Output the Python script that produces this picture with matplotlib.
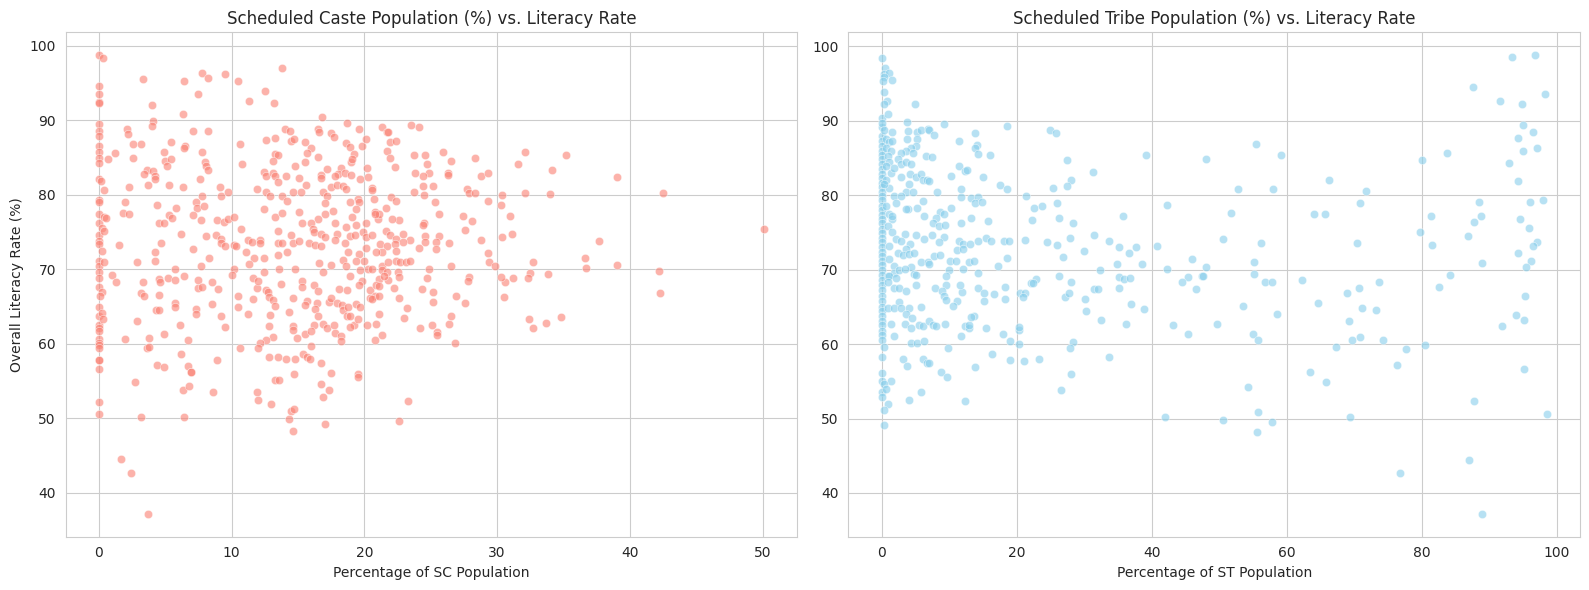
import matplotlib
matplotlib.use("Agg")
import matplotlib.pyplot as plt
import seaborn as sns

# --- SC (% of population) vs literacy ---
sc_pct = [
    0.0, 0.0, 0.0, 0.0, 0.0, 0.0, 0.0, 0.0, 0.0, 0.0, 0.0, 0.0, 0.0,
    0.0, 0.0, 0.0, 0.0, 0.0, 0.0, 0.0, 0.0, 0.0, 0.0, 0.0, 0.0, 0.0,
    0.0, 0.0, 0.0, 0.0, 0.0, 0.0, 0.0, 0.0, 0.0, 0.0, 0.0, 0.0, 0.0,
    0.3, 3.3, 6.4, 7.8, 8.2, 9.5, 10.5, 13.8, 12.5, 11.3, 13.2, 7.5, 4.0, 6.3,
    4.1, 4.0, 2.1, 2.2, 7.1, 8.2, 5.4, 6.5, 6.4, 2.6, 3.2, 4.9, 7.8, 1.2, 0.7, 2.6,
    5.0, 5.4, 5.1, 8.0, 8.1, 8.2, 3.6, 3.4, 4.1, 4.2, 4.2, 3.7, 5.3, 6.3, 2.3, 7.6, 0.15, 0.4,
    10.6, 10.8, 12.6, 13.3, 14.0, 14.4, 14.5, 14.7, 13.3, 13.5, 13.1, 12.4, 12.6, 13.1, 13.3, 13.5, 14.1, 14.8,
    11.9, 12.6, 12.9, 13.8, 14.2, 14.6, 9.1, 9.2, 9.7, 7.8, 2.0, 1.8, 2.3, 4.4, 5.8, 7.3, 7.4, 7.9, 7.1, 7.7, 5.3, 5.5, 4.5, 4.9,
    0.35, 0.5, 0.2, 0.4, 8.9, 9.4, 9.7, 10.2, 12.4, 13.3, 13.8, 10.7, 6.2, 8.1, 8.8, 9.2, 9.2, 9.5, 10.2, 10.3, 11.2, 11.5, 12.1, 12.1, 13.5, 14.5, 13.5, 13.8, 14.6,
    1.5, 4.7, 7.1, 0.2, 4.2, 4.2, 2.9, 8.3, 7.7, 11.1, 11.7, 12.4, 13.5, 14.2, 13.6, 11.3, 0.4, 10.2, 5.7, 10.0, 12.4,
    1.0, 1.3, 3.3, 4.5, 4.6, 5.2, 5.7, 6.4, 7.5, 8.5, 9.0, 7.5, 7.8, 0.2, 0.1, 3.2, 3.4, 4.5,
    5.7, 5.7, 4.3, 4.5, 0.2, 0.3, 7.3, 7.3, 8.5, 9.2, 9.5, 2.9, 6.1, 2.0, 3.8, 4.9, 6.7, 3.6, 3.8, 6.2, 8.9, 4.4, 4.9, 6.7, 6.9, 6.9,
    2.7, 6.3, 6.8, 8.6, 3.2, 6.4, 1.7, 2.4, 3.7, 10.5, 10.5, 11.2, 11.6, 11.9, 12.6, 12.7, 12.8, 13.1, 13.3, 13.7, 14.6, 11.6, 12.0,
    14.3, 14.6, 14.6, 14.9, 12.9, 12.8, 13.1, 12.6, 12.1, 12.0, 10.6, 12.8, 13.5, 14.1, 14.8, 14.7, 13.3, 13.6, 11.9, 12.0, 13.0, 14.5, 14.7, 14.3, 14.6,
    16.8, 18.7, 19.6, 16.5, 16.6, 17.5, 17.7, 15.5, 18.6, 18.9, 19.8, 20.1, 16.0, 15.7, 16.5, 19.2, 19.0, 19.1, 15.5,
    17.2, 18.2, 18.0, 18.5, 16.7, 16.7, 17.8, 19.0, 19.7, 20.3, 20.2, 15.1, 15.6, 17.5, 17.9, 18.4, 18.6, 20.6, 20.6, 15.2, 16.9, 17.2,
    18.9, 19.5, 19.6, 20.7, 17.0, 19.4, 19.1, 20.8, 21.0, 21.1, 17.6, 17.0, 16.5, 16.0, 15.1, 15.3, 17.8, 18.6, 19.4, 20.1, 16.1, 16.2, 16.7, 17.9,
    15.1, 15.8, 16.3, 16.7, 17.0, 17.8, 18.5, 18.9, 19.3, 19.9, 20.1, 20.6,
    21.3, 21.7, 21.8, 21.9, 22.4, 21.7, 21.9, 22.3, 23.5, 24.1, 23.7, 24.6, 24.7, 24.9, 24.4, 23.8, 24.4, 25.2, 24.5, 23.7,
    25.9, 26.5, 26.3, 26.3, 28.3, 28.8, 29.3, 27.7, 27.9, 28.3,
    25.3, 25.6, 27.4, 28.1, 27.6, 22.0, 22.4, 21.6, 20.8, 22.6, 22.1, 24.5, 24.4, 22.9, 21.6, 21.9, 22.4, 23.4, 22.9, 24.6, 25.6, 25.4, 26.4, 24.6,
    21.2, 21.7, 22.3, 21.3, 22.4, 20.1, 20.9, 24.1, 25.4, 29.3, 28.8, 29.3, 29.4, 29.8, 27.9, 26.5, 24.9,
    14.8, 15.3, 16.6, 16.9, 17.5, 18.4, 18.6, 18.8, 19.6, 19.4, 19.7, 20.0, 20.3, 20.6, 19.8, 21.3, 21.8, 22.4, 22.7, 23.1, 23.4, 21.3, 21.7, 22.5, 21.1, 21.8, 22.6,
    15.3, 16.2, 16.5, 18.9, 18.1, 18.7, 19.6, 20.4, 20.9, 21.1, 20.8, 20.4, 20.6, 21.1, 21.5, 22.2, 22.6, 24.7, 24.3, 25.2, 25.2, 26.9, 27.6, 27.8,
    15.7, 15.5, 16.4, 16.3, 17.3, 17.5, 17.9, 18.3, 18.4, 18.8, 19.4, 19.7, 16.5, 16.2, 16.9, 17.2, 17.7, 17.8, 18.2, 18.2, 18.7, 18.9, 19.2, 18.9, 19.5, 20.2, 20.9, 21.1, 21.3, 20.8,
    15.5, 16.0, 23.2, 23.0, 24.2, 25.1, 25.5, 25.5, 26.4, 26.5, 26.8, 16.0, 15.4, 15.7, 15.9, 16.7, 17.5, 19.5, 19.5, 16.7, 17.3, 16.9, 17.0, 23.3, 22.6,
    32.1, 35.2, 31.6, 34.1, 39.0, 30.4, 32.1, 34.0, 42.5, 30.3, 31.0, 50.1, 30.4, 31.1, 37.7, 36.6, 36.7, 39.0, 32.7, 32.5,
    32.3, 31.2, 30.6, 30.3, 33.8, 42.2, 42.3, 30.5, 32.4, 32.7, 33.7, 34.8,
]
sc_lit = [
    98.75, 94.6, 93.5, 92.5, 92.3, 89.5, 88.6, 87.9, 86.6, 85.8, 85.0, 84.3, 82.2,
    79.3, 79.0, 77.5, 76.3, 74.6, 73.8, 73.4, 71.2, 70.4, 69.6, 68.9, 67.7, 64.9,
    63.8, 62.5, 62.1, 61.8, 60.6, 60.1, 59.8, 59.4, 57.9, 57.9, 56.7, 52.2, 50.6,
    98.4, 95.5, 95.3, 96.4, 95.7, 96.3, 95.3, 97.0, 93.9, 92.6, 92.3, 93.6, 92.1, 90.9,
    89.9, 89.3, 88.9, 88.2, 88.6, 88.6, 87.1, 86.6, 86.3, 86.8, 86.8, 85.8, 85.8, 85.6, 84.8, 84.9,
    84.5, 84.8, 83.9, 84.4, 83.9, 83.4, 83.4, 82.8, 83.2, 82.5, 82.1, 81.4, 81.3, 81.0, 81.0, 82.2, 81.9, 80.6,
    86.8, 84.2, 87.4, 87.6, 88.9, 88.6, 87.3, 87.5, 85.5, 85.3, 84.6, 83.1, 82.6, 83.0, 82.6, 81.7, 82.5, 83.9,
    80.8, 80.4, 79.8, 79.8, 79.2, 80.4, 81.0, 79.8, 80.4, 79.9, 79.0, 77.6, 77.5, 78.7, 78.3, 79.0, 78.3, 78.5, 77.3, 76.7, 77.3, 76.9, 76.3, 76.2,
    77.1, 76.9, 75.6, 75.1, 76.6, 76.4, 76.8, 77.0, 78.1, 77.1, 77.6, 75.4, 74.7, 74.5, 74.6, 74.1, 73.5, 73.2, 73.3, 73.2, 74.0, 73.7, 74.0, 73.5, 75.2, 74.6, 73.6, 73.6, 73.5,
    73.3, 73.6, 72.8, 72.5, 72.4, 71.1, 71.0, 71.5, 70.5, 72.3, 71.6, 71.6, 71.9, 72.4, 70.1, 70.7, 71.0, 70.1, 70.0, 69.2, 69.6,
    69.2, 68.3, 68.3, 68.7, 68.3, 68.8, 68.6, 69.1, 68.6, 68.3, 67.4, 67.5, 67.6, 67.0, 66.5, 66.8, 66.5, 66.6,
    65.5, 65.0, 64.6, 64.6, 64.2, 63.3, 64.7, 64.0, 65.3, 63.7, 62.3, 63.1, 62.6, 60.6, 60.8, 61.3, 60.5, 59.4, 59.6, 58.6, 57.8, 57.2, 56.9, 57.1, 56.3, 56.2,
    54.9, 53.8, 54.3, 53.6, 50.2, 50.2, 44.5, 42.7, 37.2, 66.4, 65.0, 64.0, 66.0, 67.5, 67.3, 67.0, 66.3, 65.9, 65.1, 68.0, 66.1, 68.8, 68.5,
    64.3, 62.4, 61.9, 60.8, 63.9, 62.4, 60.9, 60.5, 60.1, 59.5, 59.5, 58.3, 58.3, 58.0, 58.0, 56.0, 55.1, 55.1, 53.6, 52.5, 51.9, 51.0, 51.2, 49.9, 48.3,
    90.4, 89.6, 88.8, 88.8, 88.4, 88.3, 87.8, 87.1, 87.0, 86.5, 86.6, 87.5, 86.3, 85.6, 85.1, 85.5, 84.4, 84.8, 84.4,
    83.5, 83.6, 82.8, 83.0, 82.7, 82.3, 82.6, 82.7, 82.2, 82.4, 83.6, 82.3, 81.3, 81.0, 81.3, 81.2, 80.8, 80.9, 80.6, 80.4, 80.4, 79.9,
    79.0, 79.5, 79.0, 79.4, 78.9, 78.1, 77.0, 77.7, 76.8, 77.5, 77.8, 77.5, 76.8, 76.3, 77.7, 76.3, 76.3, 75.7, 76.0, 76.3, 75.4, 75.0, 74.8, 74.8,
    73.8, 73.5, 73.3, 73.2, 74.3, 73.9, 73.5, 74.5, 74.6, 75.0, 74.3, 74.6,
    89.1, 88.4, 88.5, 87.1, 87.3, 85.9, 85.0, 83.8, 89.4, 89.1, 85.3, 85.3, 84.1, 83.0, 82.6, 83.0, 81.2, 81.2, 80.0, 80.4,
    85.7, 84.6, 83.0, 82.7, 85.0, 82.5, 82.9, 80.8, 80.2, 80.3,
    79.0, 77.5, 77.2, 76.5, 75.3, 79.7, 79.2, 78.3, 77.5, 76.7, 76.8, 76.3, 76.0, 74.8, 75.2, 74.6, 74.1, 73.9, 73.7, 74.5, 74.5, 73.7, 73.6, 73.7,
    73.4, 73.2, 73.4, 72.3, 72.5, 72.9, 72.3, 72.9, 72.7, 79.2, 73.9, 72.2, 71.0, 70.5, 69.0, 70.5, 70.1,
    70.1, 68.5, 70.8, 69.6, 70.6, 71.3, 70.5, 72.3, 72.1, 71.1, 69.9, 71.1, 70.0, 70.1, 68.5, 70.5, 71.0, 71.2, 71.0, 71.0, 71.1, 69.9, 69.6, 69.6, 68.7, 68.6, 69.0,
    67.6, 67.9, 67.1, 69.1, 67.4, 67.2, 67.9, 67.3, 67.9, 67.8, 66.4, 66.1, 66.0, 66.5, 69.1, 67.5, 66.2, 68.8, 67.4, 67.0, 65.6, 66.5, 65.5, 68.4,
    65.8, 65.2, 65.5, 64.7, 65.6, 66.2, 65.5, 65.2, 64.5, 64.9, 65.4, 65.0, 63.7, 62.6, 62.7, 62.1, 62.6, 61.5, 61.1, 60.4, 63.7, 63.8, 62.6, 62.3, 63.3, 62.5, 62.7, 64.0, 61.2, 60.5,
    61.3, 61.8, 64.8, 63.5, 62.1, 62.6, 61.6, 61.2, 62.7, 63.7, 60.1, 59.7, 58.7, 58.3, 58.0, 57.5, 56.1, 56.0, 55.6, 54.6, 53.8, 52.9, 49.2, 52.4, 49.6,
    85.7, 85.4, 84.1, 83.3, 82.4, 80.0, 80.3, 80.1, 80.3, 78.6, 77.2, 75.4, 74.4, 74.7, 73.8, 71.6, 70.2, 70.6, 71.0, 69.5,
    68.8, 68.8, 68.3, 69.0, 69.4, 69.8, 66.8, 66.3, 63.4, 62.1, 62.8, 63.6,
]

# --- ST (% of population) vs literacy ---
st_pct = [
    0.0, 0.0, 0.0, 0.0, 0.0, 0.0, 0.0, 0.0, 0.0, 0.0, 0.0, 0.0, 0.0,
    0.0, 0.0, 0.0, 0.0, 0.0, 0.0, 0.0, 0.0, 0.0, 0.0, 0.0, 0.0, 0.0,
    0.0, 0.0, 0.0, 0.0, 0.0, 0.0, 0.0, 0.0,
    0.0, 0.0, 0.0, 0.0, 0.0, 0.0, 0.0, 0.0, 0.0, 0.0, 0.0, 0.0, 0.0,
    0.0, 0.0, 0.0, 0.0, 0.0,
    0.5, 0.3, 1.1, 1.6, 0.4, 0.25, 0.3, 0.8, 0.3, 1.0, 5.0, 0.1, 0.4, 3.7, 1.5, 3.9, 5.3, 5.8, 6.8,
    0.6, 1.1, 1.6, 0.6, 1.4, 0.9, 1.1, 0.6, 1.4, 0.6, 1.1, 0.4, 3.8, 5.3, 5.1, 4.3, 3.6, 4.6,
    2.8, 2.4, 2.9, 3.6, 4.3, 4.2, 5.1, 5.8, 6.1, 6.7, 2.8, 6.5, 1.9,
    4.1, 3.6, 4.7, 1.9, 2.9, 2.1, 3.9, 3.6, 5.3, 6.1,
    0.6, 1.1, 1.6, 0.9, 1.6, 2.1, 1.1, 2.4, 1.1, 1.9,
    1.6, 6.3, 5.1, 6.3, 4.2, 3.4, 2.9, 3.6, 3.1, 4.1, 4.8, 5.8, 6.8, 4.3, 4.8, 0.9, 1.9, 2.6, 3.4,
    1.1, 2.1, 5.1, 0.9, 1.9, 2.6, 3.6, 5.1, 2.5, 0.9, 1.9, 2.9, 4.1, 5.8, 3.6, 4.5, 1.4, 3.4, 4.4, 5.6, 6.1, 1.9, 4.4, 5.3, 6.3,
    0.4, 3.1, 3.8, 6.2, 6.7, 1.4, 0.4, 0.6, 5.8, 4.1, 1.0, 0.3, 0.4,
    9.2, 18.5, 7.0, 7.8, 11.4, 13.9, 14.1, 13.9, 14.3, 16.0, 7.4, 11.5, 12.4, 12.7, 10.3, 15.0, 7.0, 17.5, 18.5,
    8.2, 11.8, 11.8, 13.3, 14.2, 13.9, 14.8, 10.3, 8.7, 9.2, 8.1, 7.6, 8.5, 9.4, 11.7, 13.3, 15.8,
    7.5, 9.3, 8.5, 11.5, 12.1, 13.1, 14.3, 15.4, 16.2, 18.1, 18.8, 11.1, 12.0, 7.7, 8.6, 7.0, 10.1, 11.0, 12.9, 13.7, 18.5, 17.3, 12.0, 10.0, 14.2, 9.5,
    25.0, 25.8, 27.5, 31.3, 39.2, 28.1, 27.5, 25.4, 21.4, 22.5, 23.8, 25.9, 22.2, 26.2, 28.3, 35.7,
    21.2, 24.5, 26.0, 27.9, 31.5, 33.7, 35.2, 36.6, 37.6, 30.0, 26.9, 34.8, 38.6, 32.3, 22.9, 26.3, 28.1, 35.1, 35.9, 36.8,
    9.6, 14.3, 18.3, 35.1, 7.9, 9.0, 9.3, 9.6, 11.9, 11.6, 11.1, 10.6, 15.1, 16.7, 15.2, 18.3, 20.5, 21.3, 21.0, 22.1,
    22.4, 27.2, 27.7, 31.4, 32.1, 30.1, 30.3, 37.0, 38.9, 32.5, 36.2,
    7.0, 7.6, 8.1, 9.4, 12.3, 12.9, 13.0, 13.7, 13.2, 15.5, 18.0, 19.0, 20.3, 20.3, 20.3, 11.7, 9.9,
    16.4, 19.0, 21.1, 23.3, 13.8, 8.8, 9.7, 7.0, 12.4, 28.3, 27.9, 33.7, 28.1, 26.6,
    93.3, 96.8, 87.6, 91.6, 94.8, 98.2, 95.0, 96.5, 94.2, 95.0, 97.0, 92.9, 94.3, 80.0, 83.8, 55.5, 48.0, 59.1,
    52.8, 57.9, 66.2, 71.7, 42.3, 51.8, 64.1, 65.6, 70.8, 40.8, 50.6, 56.2, 70.4, 79.7, 81.4, 81.5, 86.9, 87.7, 88.8, 88.5,
    96.0, 97.9, 94.6, 95.9, 97.1, 96.5, 94.3, 96.2, 95.5, 88.9, 46.0, 48.0, 42.2, 45.3, 44.5, 47.4, 47.6, 46.5,
    55.2, 55.1, 56.8, 57.8, 62.2, 68.9, 70.7, 73.6, 64.6, 53.5, 58.6, 71.1, 73.2, 69.2, 43.1, 49.6, 45.4, 55.0, 55.8, 69.7, 70.8, 74.3,
    82.6, 84.2, 95.3, 93.9, 95.2, 91.9, 67.3, 77.7, 80.4, 76.3, 63.4, 65.8, 54.2, 95.2, 87.8, 98.5, 42.0, 50.5, 55.8, 57.8,
    55.6, 69.3, 87.0, 76.7, 88.9,
]
st_lit = [
    98.4, 90.4, 89.1, 87.9, 87.3, 86.6, 86.0, 85.4, 84.8, 84.2, 83.5, 82.9, 82.3,
    81.7, 81.1, 80.4, 79.9, 79.3, 78.6, 78.0, 77.4, 76.8, 76.2, 75.5, 74.9, 74.3,
    73.7, 73.1, 72.4, 71.8, 71.2, 70.6, 69.9, 69.3,
    68.6, 68.0, 67.2, 66.5, 65.8, 65.0, 64.4, 63.8, 63.1, 62.5, 61.8, 61.2, 60.6,
    58.3, 56.1, 55.0, 53.6, 52.9,
    97.1, 96.3, 96.4, 95.5, 95.9, 95.3, 93.8, 92.7, 92.2, 90.9, 92.3, 89.7, 88.8, 89.8, 88.5, 88.6, 88.5, 88.8, 88.9,
    87.5, 87.1, 87.3, 86.4, 85.9, 85.3, 84.4, 83.9, 83.0, 82.1, 81.0, 81.5, 87.5, 87.6, 86.6, 86.4, 85.9, 85.7,
    85.7, 84.8, 84.2, 84.4, 84.2, 82.8, 82.4, 82.9, 82.1, 82.0, 82.4, 85.3, 83.7,
    81.5, 80.4, 80.4, 79.9, 79.9, 79.0, 78.1, 78.1, 78.3, 79.2,
    78.6, 77.5, 76.8, 75.9, 75.0, 74.1, 73.2, 72.3, 71.4, 70.5,
    77.2, 77.2, 74.6, 74.1, 73.4, 74.8, 73.9, 72.8, 71.9, 72.1, 72.3, 71.0, 71.0, 70.3, 69.4, 69.2, 69.6, 69.9, 70.1,
    69.1, 68.9, 69.3, 68.4, 67.5, 67.5, 67.1, 68.0, 65.7, 64.8, 64.8, 64.8, 64.8, 65.0, 64.1, 63.5, 62.7, 62.7, 62.2, 62.5, 62.4, 61.1, 60.1, 60.1, 60.4,
    59.6, 58.0, 57.1, 58.0, 57.5, 55.1, 54.6, 53.9, 53.6, 52.5, 51.9, 51.2, 49.1,
    89.6, 89.3, 88.8, 88.1, 87.3, 88.3, 86.8, 86.3, 85.6, 85.4, 85.1, 83.9, 83.3, 83.4, 82.6, 82.5, 81.9, 81.4, 80.8,
    80.4, 80.8, 79.8, 79.6, 79.8, 79.0, 79.1, 78.3, 77.7, 77.5, 77.0, 76.3, 75.9, 76.0, 76.3, 76.9, 76.6,
    74.6, 74.4, 73.7, 73.8, 73.4, 73.5, 73.9, 74.3, 73.9, 73.9, 73.9, 72.6, 72.8, 71.8, 71.9, 70.8, 71.1, 71.2, 71.0, 71.1, 71.6, 70.5, 70.1, 70.0, 69.5, 69.2,
    88.8, 88.4, 84.7, 83.1, 85.4, 82.1, 81.3, 81.0, 79.9, 78.3, 78.5, 79.0, 76.7, 77.0, 76.2, 77.2,
    74.0, 73.7, 73.3, 74.2, 74.7, 73.8, 73.1, 72.3, 73.1, 72.5, 71.7, 70.7, 70.7, 70.0, 68.8, 69.2, 68.3, 69.0, 68.8, 68.9,
    67.9, 67.6, 67.7, 67.5, 67.5, 67.1, 66.5, 65.9, 67.0, 67.9, 65.8, 65.1, 66.9, 66.7, 65.8, 66.1, 66.9, 66.9, 66.3, 68.2,
    68.2, 66.3, 66.8, 67.4, 67.4, 66.0, 64.5, 65.4, 64.7, 63.2, 62.7,
    63.1, 62.6, 62.4, 62.7, 62.4, 62.2, 62.6, 63.8, 63.7, 62.1, 61.4, 60.4, 61.9, 62.3, 60.0, 61.1, 59.5,
    58.6, 57.9, 57.7, 58.0, 56.9, 56.2, 55.6, 57.5, 52.4, 60.3, 59.5, 58.3, 56.0, 53.8,
    98.6, 98.8, 94.5, 92.6, 92.3, 93.6, 89.4, 88.5, 87.7, 85.9, 86.4, 84.3, 81.9, 84.7, 85.7, 86.9, 84.9, 85.4,
    80.9, 80.8, 82.1, 80.5, 78.7, 77.6, 77.5, 77.5, 78.9, 73.2, 74.1, 73.6, 73.6, 75.1, 77.2, 73.3, 74.5, 76.4, 77.2, 79.1,
    79.1, 79.3, 76.8, 75.6, 73.7, 73.2, 72.3, 71.1, 70.3, 70.9, 71.4, 70.4, 70.1, 69.0, 68.4, 69.1, 69.1, 67.4,
    71.0, 69.4, 68.4, 68.4, 68.6, 66.9, 67.5, 68.3, 65.5, 65.1, 64.0, 64.9, 64.6, 63.1, 62.6, 62.7, 61.3, 61.3, 60.6, 60.6, 60.9, 60.6,
    67.7, 69.3, 66.4, 63.9, 63.2, 62.4, 59.6, 59.3, 59.9, 57.2, 56.2, 54.9, 54.2, 56.7, 52.3, 50.6, 50.2, 49.8, 50.9, 49.5,
    48.2, 50.2, 44.4, 42.7, 37.2,
]

sns.set_style("whitegrid")

fig, axes = plt.subplots(1, 2, figsize=(16, 6))

sns.scatterplot(x=sc_pct, y=sc_lit, color="salmon", alpha=0.6, ax=axes[0])
axes[0].set_title("Scheduled Caste Population (%) vs. Literacy Rate")
axes[0].set_xlabel("Percentage of SC Population")
axes[0].set_ylabel("Overall Literacy Rate (%)")

sns.scatterplot(x=st_pct, y=st_lit, color="skyblue", alpha=0.6, ax=axes[1])
axes[1].set_title("Scheduled Tribe Population (%) vs. Literacy Rate")
axes[1].set_xlabel("Percentage of ST Population")
axes[1].set_ylabel("")

plt.tight_layout()
plt.savefig("out.png", dpi=100, bbox_inches="tight")
